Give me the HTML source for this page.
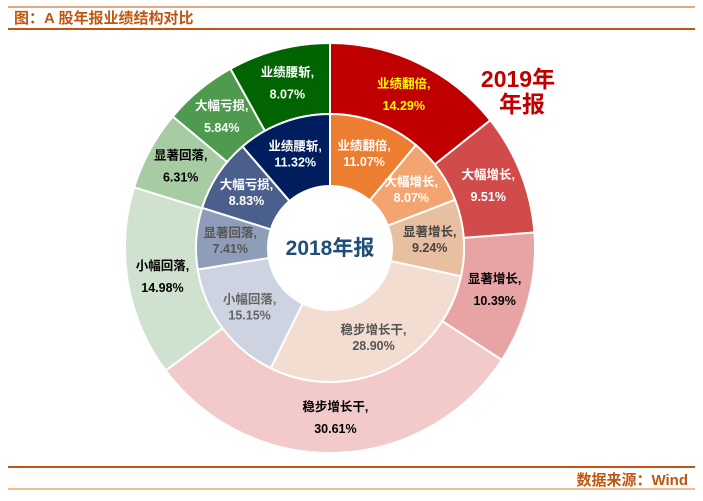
<!DOCTYPE html>
<html><head><meta charset="utf-8"><style>
body{margin:0;background:#fff;width:703px;height:496px;overflow:hidden;font-family:"Liberation Sans","Noto Sans CJK SC",sans-serif;}
</style></head><body>
<svg id="c" width="703" height="496" viewBox="0 0 703 496" xmlns="http://www.w3.org/2000/svg" font-family="Liberation Sans, Noto Sans CJK SC, sans-serif">
<line x1="8" y1="7" x2="695" y2="7" stroke="#C0560F" stroke-width="1"/>
<text x="14" y="23" font-size="15" font-weight="bold" fill="#C0560F">图：A 股年报业绩结构对比</text>
<line x1="8" y1="29" x2="695" y2="29" stroke="#C0560F" stroke-width="2"/>
<line x1="8" y1="467" x2="695" y2="467" stroke="#C0560F" stroke-width="2"/>
<text x="688" y="485" text-anchor="end" font-size="15" font-weight="bold" fill="#C0560F">数据来源：Wind</text>
<line x1="8" y1="489" x2="695" y2="489" stroke="#E07820" stroke-width="1"/>
<g id="rings"></g>
<text x="330" y="255" text-anchor="middle" font-size="21" font-weight="bold" fill="#1F4E79">2018年报</text>
<text text-anchor="middle" font-size="23" font-weight="bold" fill="#C00000"><tspan x="518" y="87">2019年</tspan><tspan x="522" y="112">年报</tspan></text>
</svg>
<script>
const categories=["业绩翻倍","大幅增长","显著增长","稳步增长干","小幅回落","显著回落","大幅亏损","业绩腰斩"];
const values2019=[14.29,9.51,10.39,30.61,14.98,6.31,5.84,8.07];
const values2018=[11.07,8.07,9.24,28.90,15.15,7.41,8.83,11.32];
const colors2019=["#C00000","#D24B4B","#E8A4A4","#F2CACA","#CFE2CF","#A7CBA2","#4E9A4E","#006400"];
const colors2018=["#ED7D31","#F4A56F","#E8BFA0","#F2DDD0","#CDD3E1","#8E9DB8","#4A5F8C","#001E5E"];
const textCol2019=["#FFFF00","#fff","#000","#000","#000","#000","#fff","#fff"];
const textCol2018=["#fff","#fff","#444","#555","#666","#555","#fff","#fff"];
const cx=330,cy=248,NS="http://www.w3.org/2000/svg";
const g=document.getElementById('rings');
function pt(r,a){return [cx+r*Math.sin(a),cy-r*Math.cos(a)];}
function ring(vals,cols,tcols,r0,r1,lr,name,gap){
  const tot=vals.reduce((a,b)=>a+b,0);let a=0;
  vals.forEach((v,i)=>{
    const a0=a/tot*2*Math.PI,a1=(a+v)/tot*2*Math.PI;a+=v;
    const [x0,y0]=pt(r1,a0),[x1,y1]=pt(r1,a1),[x2,y2]=pt(r0,a1),[x3,y3]=pt(r0,a0);
    const lg=(a1-a0)>Math.PI?1:0;
    const p=document.createElementNS(NS,'path');
    p.setAttribute('d',`M${x0},${y0}A${r1},${r1} 0 ${lg} 1 ${x1},${y1}L${x2},${y2}A${r0},${r0} 0 ${lg} 0 ${x3},${y3}Z`);
    p.setAttribute('fill',cols[i]);p.setAttribute('stroke','#fff');p.setAttribute('stroke-width','2');
    
    
    g.appendChild(p);
    const [lx,ly]=pt(lr,(a0+a1)/2);
    const t=document.createElementNS(NS,'text');
    
    
    t.setAttribute('text-anchor','middle');t.setAttribute('font-size','12.5');t.setAttribute('font-weight','bold');t.setAttribute('fill',tcols[i]);
    const s1=document.createElementNS(NS,'tspan');s1.setAttribute('x',lx);s1.setAttribute('y',ly-gap+4);s1.textContent=categories[i]+',';
    const s2=document.createElementNS(NS,'tspan');s2.setAttribute('x',lx);s2.setAttribute('y',ly+gap+4);s2.textContent=v.toFixed(2)+'%';
    t.appendChild(s1);t.appendChild(s2);g.appendChild(t);
  });
}
ring(values2019,colors2019,textCol2019,134,205,170,'outer-2019',11);
ring(values2018,colors2018,textCol2018,62,134,100,'inner-2018',8);
</script>
</body></html>
